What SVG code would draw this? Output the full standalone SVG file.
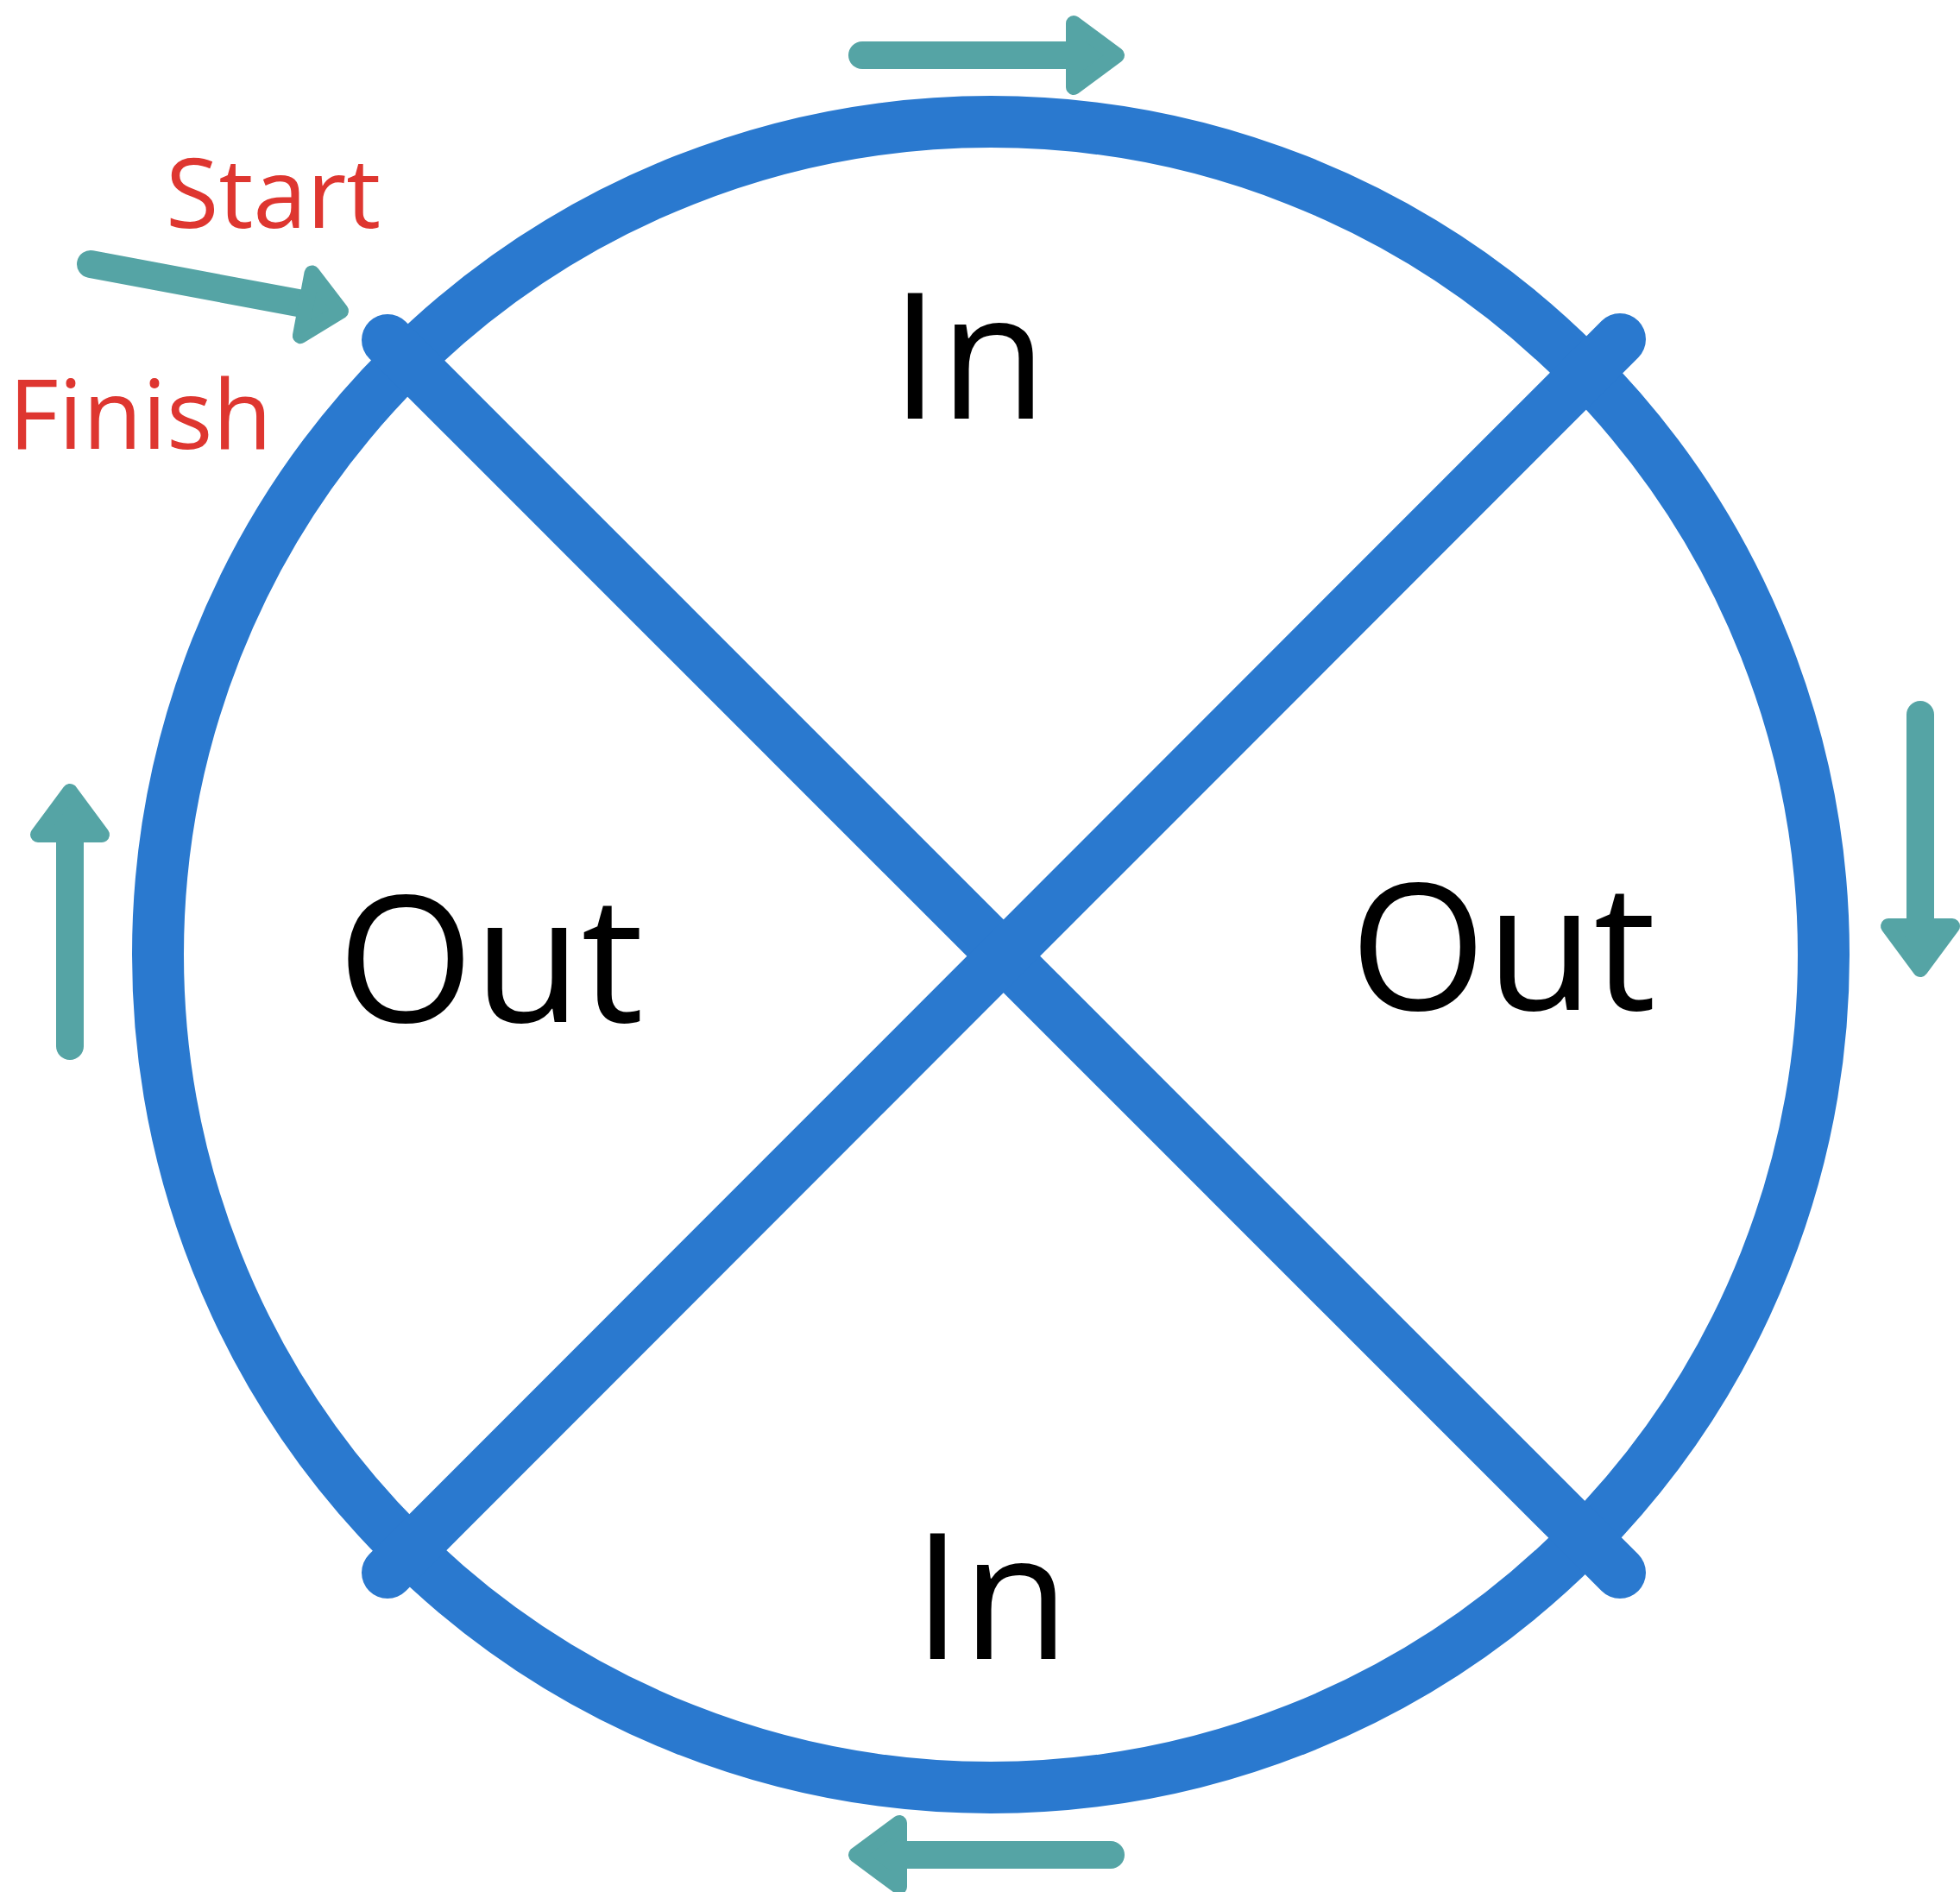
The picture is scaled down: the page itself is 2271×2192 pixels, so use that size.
<svg xmlns="http://www.w3.org/2000/svg" xmlns:xlink="http://www.w3.org/1999/xlink" width="2271" height="2192" viewBox="0 0 2271 2192">
  <style>
    .track { fill: none; stroke: #2A79CF; stroke-width: 60; stroke-linecap: round; }
    .shaft { stroke: #55A4A5; stroke-width: 32; stroke-linecap: round; }
    .head { fill: #55A4A5; stroke: #55A4A5; stroke-width: 18; stroke-linejoin: round; }
    .zone { font-family: "Open Sans", "Noto Sans", "Liberation Sans", sans-serif; font-size: 203px; fill: #000000; }
    .mark { font-family: "Open Sans", "Noto Sans", "Liberation Sans", sans-serif; font-size: 112px; fill: #DE3630; }
  </style>
  <defs>
    <!-- direction arrow, tail at origin, pointing along +x, 320 long -->
    <g id="dir-arrow">
      <line class="shaft" x1="16" y1="0" x2="258" y2="0"/>
      <polygon class="head" points="261,-37 311,0 261,37"/>
    </g>
    <!-- entry arrow with a slightly shorter head -->
    <g id="entry-arrow">
      <line class="shaft" x1="16" y1="0" x2="266" y2="0"/>
      <polygon class="head" points="270,-37 311,0 270,37"/>
    </g>
  </defs>

  <rect width="2271" height="2192" fill="#FFFFFF"/>

  <!-- circuit: ring and the two crossing diagonals -->
  <g id="connectors">
    <circle class="track" cx="1148" cy="1106" r="965"/>
    <line class="track" x1="449" y1="394" x2="1877" y2="1822"/>
    <line class="track" x1="1877" y1="393" x2="449" y2="1822"/>
  </g>

  <!-- travel direction around the ring -->
  <g id="flow-arrows">
    <use xlink:href="#dir-arrow" transform="translate(983,64)"/>
    <use xlink:href="#dir-arrow" transform="translate(2225,812) rotate(90)"/>
    <use xlink:href="#dir-arrow" transform="translate(1303,2149) rotate(180)"/>
    <use xlink:href="#dir-arrow" transform="translate(81,1228) rotate(-90)"/>
    <use xlink:href="#entry-arrow" transform="translate(89.3,303.1) rotate(10.6)"/>
  </g>

  <g id="label-start"><text class="mark" x="192" y="264">Start</text></g>
  <g id="label-finish"><text class="mark" x="10" y="520">Finish</text></g>

  <g id="zone-in-top"><text class="zone" x="1032" y="485">In</text></g>
  <g id="zone-out-left"><text class="zone" x="391" y="1184">Out</text></g>
  <g id="zone-out-right"><text class="zone" x="1564" y="1170">Out</text></g>
  <g id="zone-in-bottom"><text class="zone" x="1058" y="1922">In</text></g>
</svg>
